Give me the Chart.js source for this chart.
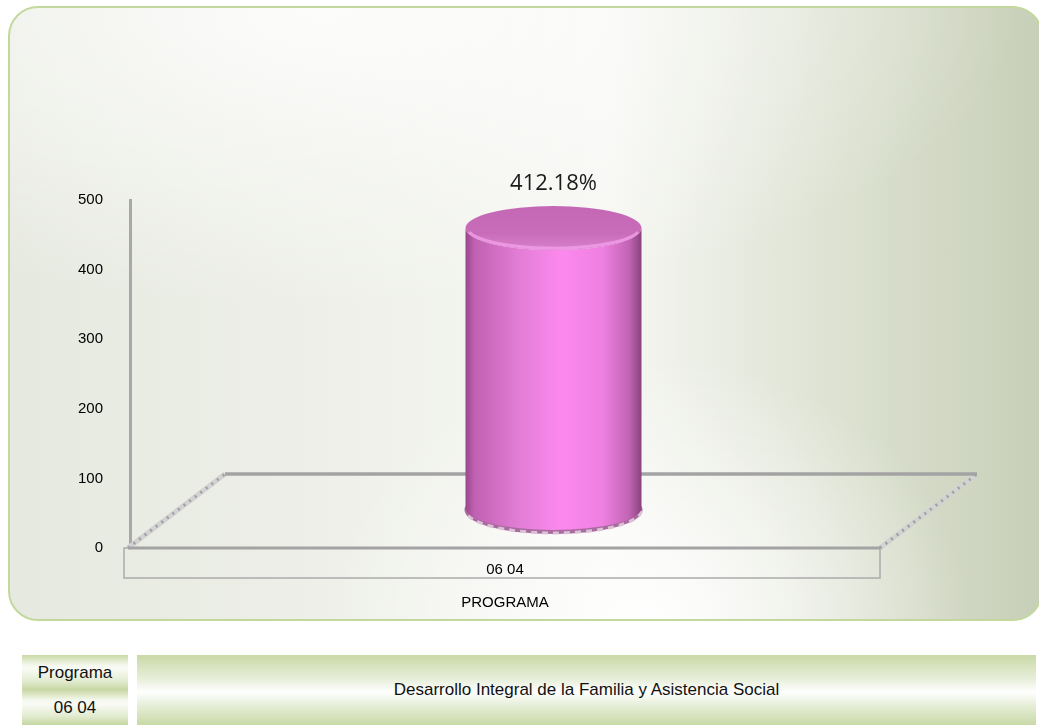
<!DOCTYPE html>
<html>
<head>
<meta charset="utf-8">
<script src="https://cdn.jsdelivr.net/npm/chart.js@4.4.1/dist/chart.umd.min.js"></script>
<style>
  body {
    margin: 0;
    width: 1039px;
    height: 725px;
    overflow: hidden;
    background: #ffffff;
    font-family: "Liberation Sans", Arial, sans-serif;
    position: relative;
  }
  #panel {
    position: absolute;
    left: 8px;
    top: 6px;
    width: 1031px;
    height: 611px;
    border: 2px solid #c3d89d;
    border-radius: 30px;
    background:
      radial-gradient(ellipse 320px 260px at 62% 100%, rgba(255,255,255,0.95) 0%, rgba(255,255,255,0) 100%),
      radial-gradient(ellipse 700px 300px at 30% 0%, rgba(255,255,255,0.85) 0%, rgba(255,255,255,0) 100%),
      linear-gradient(to right, #e6e9df 0%, #eff1ea 35%, #f6f7f3 58%, #dde2d2 80%, #c8cfb8 100%);
  }
  #chartBox {
    position: absolute;
    left: 0;
    top: 0;
    width: 1039px;
    height: 630px;
  }
  .cell {
    position: absolute;
    display: flex;
    align-items: center;
    justify-content: center;
    font-size: 17px;
    color: #111;
  }
  .half {
    background: linear-gradient(to bottom, #c9d9a6 0%, #f6f9f0 30%, #f9fbf5 40%, #e2ebd0 75%, #c6d6a1 100%);
  }
  #descCell {
    background: linear-gradient(to bottom, #c9d9a6 0%, #e8efdb 35%, #ffffff 53%, #e6eed8 72%, #c9d9a6 100%);
  }
</style>
</head>
<body>
<div id="panel"></div>
<div id="chartBox"><canvas id="cylChart" width="1039" height="630"></canvas></div>

<div class="cell half" style="left:22px; top:655px; width:106px; height:35px;">Programa</div>
<div class="cell half" style="left:22px; top:690px; width:106px; height:35px;">06 04</div>
<div class="cell" id="descCell" style="left:137px; top:655px; width:899px; height:70px;">Desarrollo Integral de la Familia y Asistencia Social</div>

<script>
const categories = ["06 04"];
const values = [412.18];
const yTicks = [0, 100, 200, 300, 400, 500];
const axisTitle = "PROGRAMA";

// depth of the 3D floor (back edge offset)
const depthX = 97;
const depthY = -74;

const floorPlugin = {
    id: "floor3d",
    beforeDatasetsDraw(chart) {
        const ctx = chart.ctx;
        const a = chart.chartArea;
        const l = a.left - 2;
        const r = a.right;
        const b = a.bottom;

        ctx.save();

        // category box under the floor
        ctx.strokeStyle = "#ababab";
        ctx.lineWidth = 1.5;
        ctx.strokeRect(a.left - 6, b, r - a.left + 6, 30);

        // diagonal edges, hatched
        ctx.lineCap = "butt";
        [l, r].forEach(function (x) {
            ctx.strokeStyle = "#d2d2d2";
            ctx.lineWidth = 5;
            ctx.setLineDash([]);
            ctx.beginPath();
            ctx.moveTo(x, b);
            ctx.lineTo(x + depthX, b + depthY);
            ctx.stroke();
            ctx.strokeStyle = "#a0a0a0";
            ctx.lineWidth = 3;
            ctx.setLineDash([2, 5]);
            ctx.beginPath();
            ctx.moveTo(x, b);
            ctx.lineTo(x + depthX, b + depthY);
            ctx.stroke();
        });
        ctx.setLineDash([]);

        // back edge
        ctx.strokeStyle = "#a3a3a3";
        ctx.lineWidth = 3.5;
        ctx.beginPath();
        ctx.moveTo(l + depthX, b + depthY);
        ctx.lineTo(r + depthX, b + depthY);
        ctx.stroke();

        // front edge
        ctx.lineWidth = 3;
        ctx.beginPath();
        ctx.moveTo(l, b);
        ctx.lineTo(r, b);
        ctx.stroke();

        ctx.restore();
    }
};

const cylinderPlugin = {
    id: "cylinder",
    afterDatasetsDraw(chart) {
        const ctx = chart.ctx;
        const meta = chart.getDatasetMeta(0);

        meta.data.forEach(function (bar, i) {
            const cx = bar.x + depthX / 2;
            const rx = bar.width / 2;
            const ry = 22;
            // top sits a little lower (perspective), base a little deeper
            const top = bar.y + depthY / 2 + 4;
            const base = bar.base + depthY / 2 - 3;

            ctx.save();

            // rim under the base
            ctx.fillStyle = "#a96a9f";
            ctx.beginPath();
            ctx.ellipse(cx, base + 2, rx + 1, ry + 2, 0, 0, Math.PI * 2);
            ctx.fill();
            ctx.strokeStyle = "#dcc0d6";
            ctx.lineWidth = 3;
            ctx.setLineDash([6, 5]);
            ctx.beginPath();
            ctx.ellipse(cx, base + 2, rx, ry + 1, 0, 0.05, Math.PI - 0.05);
            ctx.stroke();
            ctx.setLineDash([]);

            // body
            const g = ctx.createLinearGradient(cx - rx, 0, cx + rx, 0);
            g.addColorStop(0, "#97478b");
            g.addColorStop(0.05, "#c061b2");
            g.addColorStop(0.3, "#e27dd5");
            g.addColorStop(0.55, "#fd89ef");
            g.addColorStop(0.78, "#ee80e0");
            g.addColorStop(0.93, "#c264b4");
            g.addColorStop(1, "#88427e");
            ctx.fillStyle = g;
            ctx.beginPath();
            ctx.moveTo(cx - rx, top);
            ctx.lineTo(cx - rx, base);
            ctx.ellipse(cx, base, rx, ry, 0, Math.PI, 0, true);
            ctx.lineTo(cx + rx, top);
            ctx.ellipse(cx, top, rx, ry, 0, 0, Math.PI, false);
            ctx.closePath();
            ctx.fill();

            // top cap
            const tg = ctx.createLinearGradient(0, top - ry, 0, top + ry);
            tg.addColorStop(0, "#c468b5");
            tg.addColorStop(0.6, "#c86cb9");
            tg.addColorStop(1, "#d881cb");
            ctx.fillStyle = tg;
            ctx.beginPath();
            ctx.ellipse(cx, top, rx, ry, 0, 0, Math.PI * 2);
            ctx.fill();

            // soft light rim on the front edge of the cap
            ctx.strokeStyle = "rgba(246, 160, 236, 0.75)";
            ctx.lineWidth = 3;
            ctx.beginPath();
            ctx.ellipse(cx, top, rx - 2, ry - 2, 0, 0.2, Math.PI - 0.2);
            ctx.stroke();

            // value label
            ctx.fillStyle = "#1a1a1a";
            ctx.font = "22px 'Open Sans', sans-serif";
            ctx.textAlign = "center";
            ctx.textBaseline = "middle";
            ctx.fillText(values[i].toFixed(2) + "%", cx, top - ry - 22);

            ctx.restore();
        });
    }
};

const ctx = document.getElementById("cylChart");

new Chart(ctx, {
    type: "bar",
    data: {
        labels: categories,
        datasets: [
            {
                label: axisTitle,
                data: values,
                backgroundColor: "rgba(0,0,0,0)",
                barThickness: 176
            }
        ]
    },
    options: {
        responsive: false,
        animation: false,
        layout: {
            padding: { top: 200, right: 159, left: 0, bottom: 0 }
        },
        plugins: {
            legend: { display: false },
            tooltip: { enabled: false }
        },
        scales: {
            y: {
                min: yTicks[0],
                max: yTicks[yTicks.length - 1],
                afterBuildTicks(scale) {
                    scale.ticks = yTicks.map(function (v) { return { value: v }; });
                },
                afterFit(scale) {
                    scale.width = 130;
                },
                grid: { display: false, drawTicks: false },
                border: { display: true, color: "#a8a8a8", width: 3 },
                ticks: {
                    padding: 27,
                    color: "#000",
                    font: { family: "'Liberation Sans', Arial", size: 15 }
                }
            },
            x: {
                afterFit(scale) {
                    scale.height = 82;
                },
                grid: { display: false, drawTicks: false },
                border: { display: false },
                ticks: {
                    padding: 13,
                    color: "#000",
                    font: { family: "'Liberation Sans', Arial", size: 15 }
                },
                title: {
                    display: true,
                    text: axisTitle,
                    color: "#000",
                    padding: { top: 0, bottom: 18 },
                    font: { family: "'Liberation Sans', Arial", size: 15 }
                }
            }
        }
    },
    plugins: [floorPlugin, cylinderPlugin]
});
</script>
</body>
</html>
